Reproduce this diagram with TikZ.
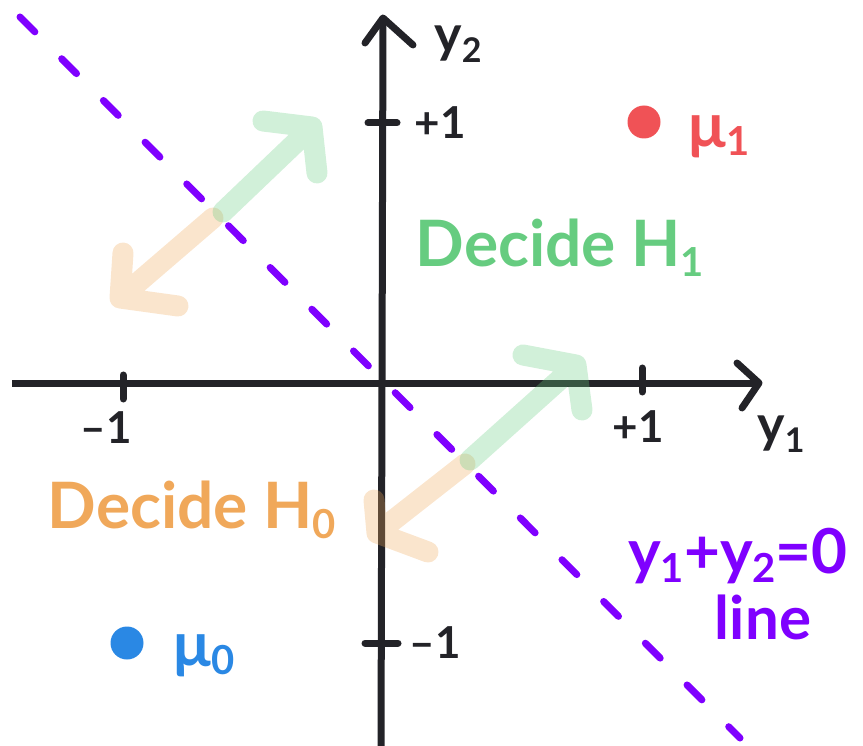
\documentclass[tikz,border=0pt]{standalone}
\usepackage{fontspec}
\setmainfont{Lato}
\definecolor{axisc}{RGB}{35,35,40}
\definecolor{purp}{RGB}{127,0,255}
\definecolor{grn}{RGB}{102,204,128}
\definecolor{org}{RGB}{240,168,90}
\definecolor{redd}{RGB}{240,82,86}
\definecolor{blu}{RGB}{42,136,228}
\newcommand{\fs}[1]{\fontsize{#1}{#1}\selectfont}
\newcommand{\lsb}[3]{\raisebox{-#1}{\fs{#2}#3}}
\begin{document}
\begin{tikzpicture}[x=1pt,y=-1pt,
  axis/.style={draw=axisc,line width=7pt},
  chev/.style={draw=axisc,line width=7pt,line cap=round,line join=round},
  tickm/.style={draw=axisc,line width=7pt,line cap=round},
  lab/.style={text=axisc,inner sep=0pt,font=\bfseries},
  garr/.style={draw=grn,opacity=0.3,line width=21pt,line cap=round,line join=round},
  oarr/.style={draw=org,opacity=0.3,line width=21pt,line cap=round,line join=round},
  dline/.style={draw=purp,line width=7pt,line cap=round,dash pattern=on 21pt off 38pt},
  dot/.style={circle,inner sep=0pt,minimum size=33pt}]
\useasboundingbox (0,0) rectangle (863,746);
% axes
\coordinate (xl) at (12,383);
\coordinate (xr) at (759,383);
\coordinate (yb) at (381,750);
\coordinate (yt) at (383,18);
\draw[axis] (xl) -- (xr);
\draw[axis] (yb) -- (yt);
\coordinate (xa1) at (737,363);
\coordinate (xa2) at (742,408);
\draw[chev] (xa1) -- (xr) -- (xa2);
\coordinate (ya1) at (365,43);
\coordinate (ya2) at (413,45);
\draw[chev] (ya1) -- (yt) -- (ya2);
% ticks
\coordinate (tv1a) at (368,123); \coordinate (tv1b) at (397,123);
\coordinate (tv2a) at (365,643); \coordinate (tv2b) at (398,643);
\coordinate (th1a) at (123,375); \coordinate (th1b) at (123,399);
\coordinate (th2a) at (642,368); \coordinate (th2b) at (642,392);
\draw[tickm] (tv1a) -- (tv1b);
\draw[tickm] (tv2a) -- (tv2b);
\draw[tickm] (th1a) -- (th1b);
\draw[tickm] (th2a) -- (th2b);
% dashed line
\coordinate (da) at (20,17);
\coordinate (db) at (740,738);
\draw[dline] (da) -- (db);
% arrows upper left
\coordinate (o1s) at (213,218); \coordinate (o1t) at (120,298);
\coordinate (o1a) at (123,253); \coordinate (o1b) at (178,306);
\draw[oarr] (o1s) -- (o1t) (o1a) -- (o1t) -- (o1b);
\coordinate (g1s) at (223,212); \coordinate (g1t) at (312,127);
\coordinate (g1a) at (263,121); \coordinate (g1b) at (317,173);
\draw[garr] (g1s) -- (g1t) (g1a) -- (g1t) -- (g1b);
% arrows lower right
\coordinate (o2s) at (465,464); \coordinate (o2t) at (377,533);
\coordinate (o2a) at (374,500); \coordinate (o2b) at (428,552);
\draw[oarr] (o2s) -- (o2t) (o2a) -- (o2t) -- (o2b);
\coordinate (g2s) at (470,460); \coordinate (g2t) at (576,365);
\coordinate (g2a) at (523,355); \coordinate (g2b) at (582,410);
\draw[garr] (g2s) -- (g2t) (g2a) -- (g2t) -- (g2b);
% axis labels
\node[lab] (ly2) at (458,44) {\fs{52}y\lsb{10pt}{34}{2}};
\node[lab] (ly1) at (781,434) {\fs{52}y\lsb{10pt}{34}{1}};
\node[lab] (lp1v) at (440,123) {\fs{44}+1};
\node[lab] (lm1v) at (435,643) {\fs{44}\textendash1};
\node[lab] (lm1h) at (106,428) {\fs{44}\textendash1};
\node[lab] (lp1h) at (638,427) {\fs{44}+1};
% points
\node[dot,fill=redd] (mu1) at (644,122) {};
\node[dot,fill=blu] (mu0) at (127,643) {};
\node[lab,text=redd] (lmu1) at (719,137) {\fs{62}μ\lsb{8pt}{40}{1}};
\node[lab,text=blu] (lmu0) at (204,656) {\fs{62}μ\lsb{8pt}{40}{0}};
% region labels
\node[lab,text=grn] (dh1) at (560,248) {\fs{64}Decide H\lsb{10pt}{40}{1}};
\node[lab,text=org] (dh0) at (192,510) {\fs{64}Decide H\lsb{10pt}{40}{0}};
% line label
\node[lab,text=purp] (leq) at (738,556) {\fs{62}y\lsb{9pt}{40}{1}+y\lsb{9pt}{40}{2}=0};
\node[lab,text=purp] (lline) at (763,617) {\fs{60}line};
\end{tikzpicture}
\end{document}
